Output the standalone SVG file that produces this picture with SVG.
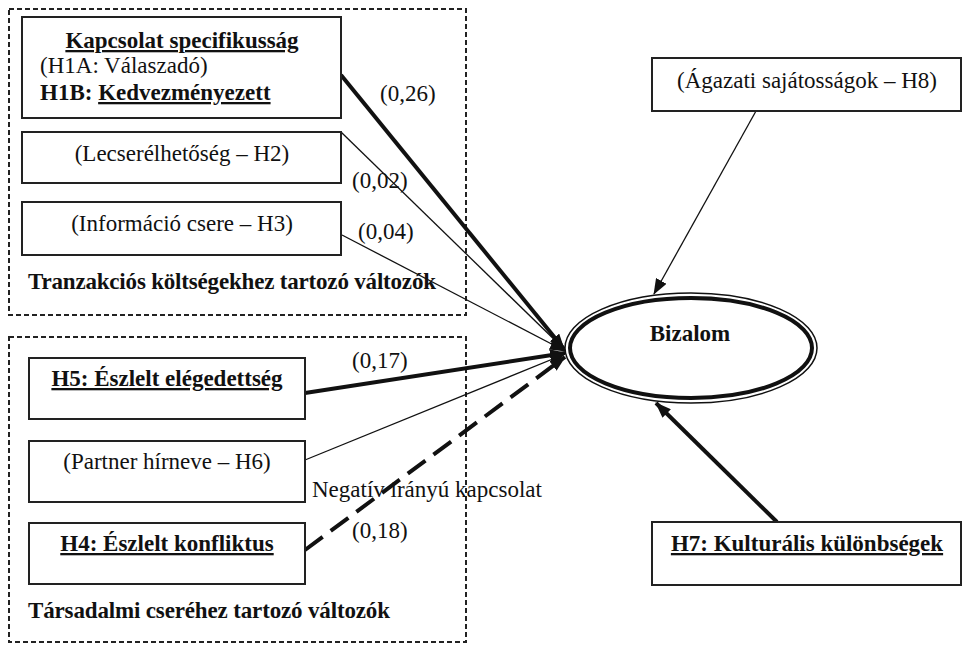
<svg xmlns="http://www.w3.org/2000/svg" width="962" height="645" viewBox="0 0 962 645">
<style>
.t{font-family:"Liberation Serif","Times New Roman",serif;font-size:23px;fill:#111}
.b{font-weight:bold}
.u{text-decoration:underline}
.box{fill:#fff;stroke:#222;stroke-width:2}
.grp{fill:none;stroke:#222;stroke-width:2;stroke-dasharray:5 3}
.thin{stroke:#111;stroke-width:1.3;fill:none}
.thick{stroke:#111;stroke-width:4;fill:none}
</style>
<defs>
<marker id="ah" markerUnits="userSpaceOnUse" markerWidth="16" markerHeight="12" refX="15" refY="6" orient="auto">
<path d="M0,0 L16,6 L0,12 Z" fill="#111"/>
</marker>
</defs>
<rect width="962" height="645" fill="#fff"/>

<g id="group-tranzakcios">
<rect class="grp" x="9" y="9" width="457" height="306"/>
<text class="t b" x="28" y="289" textLength="408" lengthAdjust="spacing">Tranzakciós költségekhez tartozó változók</text>
</g>
<g id="group-tarsadalmi">
<rect class="grp" x="9" y="337" width="457" height="305"/>
<text class="t b" x="28" y="618" textLength="362" lengthAdjust="spacing">Társadalmi cseréhez tartozó változók</text>
</g>

<g id="connectors">
<line class="thick" x1="341" y1="75" x2="564" y2="349" marker-end="url(#ah)"/>
<line class="thin" x1="341" y1="132" x2="565" y2="350" marker-end="url(#ah)"/>
<line class="thin" x1="342" y1="235" x2="565" y2="351" marker-end="url(#ah)"/>
<line class="thick" x1="305" y1="393" x2="565" y2="353" marker-end="url(#ah)"/>
<line class="thin" x1="305" y1="460" x2="565" y2="354" marker-end="url(#ah)"/>
<line class="thick" x1="305" y1="550" x2="565" y2="357" stroke-dasharray="22 10" marker-end="url(#ah)"/>
<line class="thin" x1="756" y1="111" x2="654" y2="294" marker-end="url(#ah)"/>
<line class="thick" stroke-width="3" x1="777" y1="522" x2="656" y2="403" marker-end="url(#ah)"/>
<text class="t" x="380" y="101">(0,26)</text>
<text class="t" x="352" y="188">(0,02)</text>
<text class="t" x="358" y="239">(0,04)</text>
<text class="t" x="352" y="368">(0,17)</text>
<text class="t" x="352" y="538">(0,18)</text>
<text class="t" x="312" y="497">Negatív irányú kapcsolat</text>
</g>

<g id="node-h1">
<rect class="box" x="22" y="17" width="319" height="101"/>
<text class="t b u" x="182" y="48" text-anchor="middle">Kapcsolat specifikusság</text>
<text class="t" x="40" y="73">(H1A: Válaszadó)</text>
<text class="t b" x="40" y="100">H1B: <tspan class="u">Kedvezményezett</tspan></text>
</g>
<g id="node-h2">
<rect class="box" x="22" y="132" width="319" height="51"/>
<text class="t" x="182" y="161" text-anchor="middle">(Lecserélhetőség – H2)</text>
</g>
<g id="node-h3">
<rect class="box" x="22" y="202" width="319" height="53"/>
<text class="t" x="182" y="231" text-anchor="middle">(Információ csere – H3)</text>
</g>
<g id="node-h5">
<rect class="box" x="29" y="358" width="276" height="61"/>
<text class="t b u" x="167" y="386" text-anchor="middle">H5: Észlelt elégedettség</text>
</g>
<g id="node-h6">
<rect class="box" x="29" y="441" width="276" height="61"/>
<text class="t" x="167" y="469" text-anchor="middle">(Partner hírneve – H6)</text>
</g>
<g id="node-h4">
<rect class="box" x="29" y="523" width="276" height="61"/>
<text class="t b u" x="167" y="551" text-anchor="middle">H4: Észlelt konfliktus</text>
</g>
<g id="node-h8">
<rect class="box" x="652" y="58" width="309" height="53"/>
<text class="t" x="807" y="88" text-anchor="middle">(Ágazati sajátosságok – H8)</text>
</g>
<g id="node-h7">
<rect class="box" x="652" y="522" width="309" height="63"/>
<text class="t b u" x="807" y="551" text-anchor="middle">H7: Kulturális különbségek</text>
</g>
<g id="node-bizalom">
<ellipse cx="691" cy="348" rx="126" ry="55" fill="#fff" stroke="#111" stroke-width="1.5"/>
<ellipse cx="691" cy="348" rx="121" ry="50" fill="#fff" stroke="#111" stroke-width="4"/>
<text class="t b" x="690" y="341" text-anchor="middle" font-size="20">Bizalom</text>
</g>
</svg>
